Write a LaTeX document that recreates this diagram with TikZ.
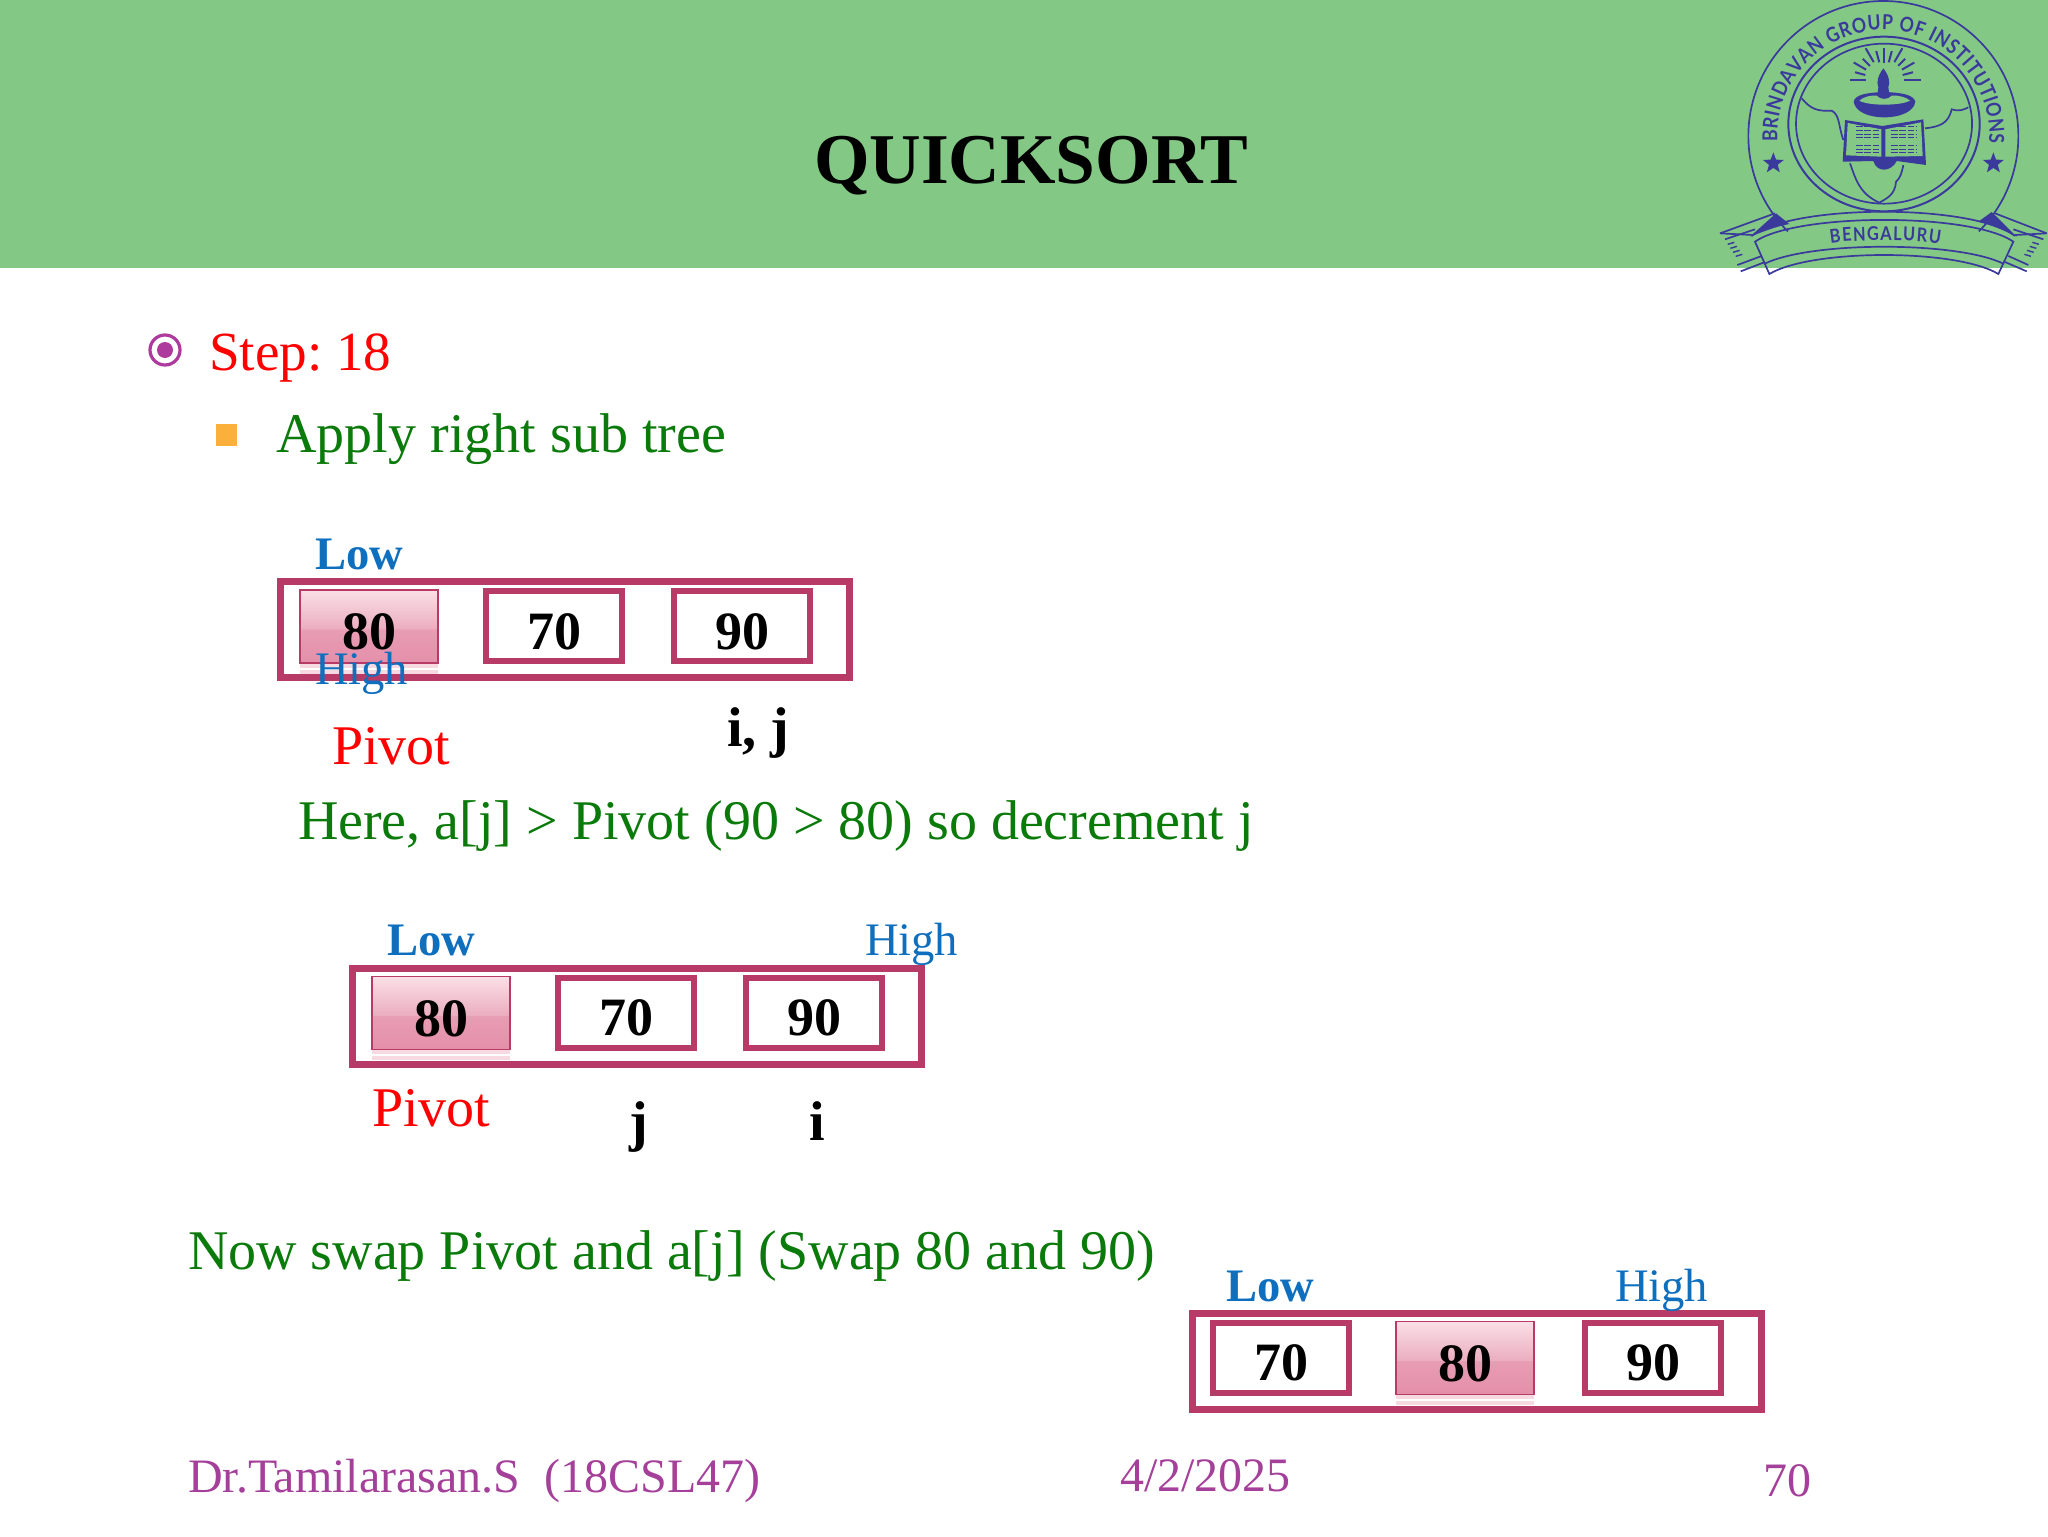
\documentclass[tikz,border=0pt]{standalone}
\usepackage{fontspec}
\setmainfont{Liberation Serif}
\newfontfamily\logofont[FakeStretch=0.86]{Lato}
\usetikzlibrary{shapes.geometric,decorations.text}
\frenchspacing
\definecolor{bannergreen}{HTML}{83C985}
\definecolor{logoblue}{HTML}{3A3A9C}
\definecolor{boxred}{HTML}{B83A66}
\definecolor{txtgreen}{HTML}{0A7A0A}
\definecolor{lowblue}{HTML}{0F6FBF}
\definecolor{footpurple}{HTML}{A5409A}
\definecolor{bulletpurple}{HTML}{AE3A9E}
\definecolor{bulletorange}{HTML}{FBB03B}
\definecolor{reflect}{HTML}{F6D9E1}
\definecolor{pa}{HTML}{E58FAA}
\definecolor{pb}{HTML}{E79DB3}
\definecolor{pc}{HTML}{EBAEC0}
\definecolor{pd}{HTML}{FADFE7}
\pgfdeclareverticalshading{pivotshade}{100bp}{color(0bp)=(pa); color(25bp)=(pa); color(48bp)=(pb); color(48.5bp)=(pc); color(75bp)=(pd); color(100bp)=(pd)}
\newcommand{\fs}[1]{\fontsize{#1}{#1}\selectfont}
\tikzset{
  lab/.style={anchor=base west,inner sep=0pt,outer sep=0pt},
  titletext/.style={lab,font=\fs{35.7}\bfseries,text=black},
  steptext/.style={lab,font=\fs{27.6},text=red},
  greentext/.style={lab,font=\fs{28},text=txtgreen},
  lowtext/.style={lab,font=\fs{23.3}\bfseries,text=lowblue},
  hightext/.style={lab,font=\fs{23.3},text=lowblue},
  pivottext/.style={lab,font=\fs{28},text=red},
  idxtext/.style={lab,font=\fs{28}\bfseries,text=black},
  foottext/.style={lab,font=\fs{24},text=footpurple},
  outerbox/.style={draw=boxred,line width=3.5pt,minimum width=284.5pt,minimum height=48pt,inner sep=0pt},
  cellbox/.style={draw=boxred,line width=3pt,minimum width=68pt,minimum height=35pt,inner sep=0pt,font=\fs{27}\bfseries,text height=23pt,text depth=0pt},
  pivotcell/.style={draw=boxred,line width=.7pt,shading=pivotshade,minimum width=69pt,minimum height=36.5pt,inner sep=0pt,font=\fs{27}\bfseries,text height=23pt,text depth=0pt},
  reflection/.style={fill=reflect,draw=none},
  logoline/.style={draw=logoblue,line width=.85pt},
  logofill/.style={fill=logoblue,draw=none},
  logostar/.style={star,star points=5,star point ratio=2.4,fill=logoblue,inner sep=0pt,minimum size=11pt},
}
\begin{document}
\begin{tikzpicture}[x=.5pt,y=-.5pt]
\useasboundingbox (0,0) rectangle (2048,1536);
\fill[white] (0,0) rectangle (2048,1536);
\fill[bannergreen] (0,0) rectangle (2048,268);
\node[titletext] (title) at (814,183) {QUICKSORT};

% logo, in the coordinates of a 3x crop at (1700,0)
\begin{scope}[shift={(1700,0)},x=.16667pt,y=-.16667pt]
  \draw[logoline] (550,408) ++(135:405) arc[start angle=135,end angle=405,radius=405];
  \draw[logoline,line width=1pt] (552,372) ellipse[x radius=287,y radius=262];
  \draw[logoline] (552,371) ellipse[x radius=264,y radius=240];
  \path[decorate,decoration={text along path,text align={fit to path},
     text={|\fs{10.3}\logofont\bfseries\color{logoblue}|BRINDAVAN GROUP OF INSTITUTIONS}}]
     (550,408) ++(177:318) arc[start angle=177,end angle=364,radius=318];
  \node[logostar] (starl) at (220,490) {};
  \node[logostar] (starr) at (880,490) {};
  % map of India
  \draw[logoline] (305,295) .. controls (330,325) and (350,335) .. (395,332) .. controls (420,345) and (415,380) .. (430,420);
  \draw[logoline] (450,490) .. controls (465,530) and (475,580) .. (538,608) .. controls (560,595) and (585,585) .. (588,545) .. controls (600,535) and (605,520) .. (610,495);
  \draw[logoline] (675,385) .. controls (720,380) and (745,370) .. (755,328) .. controls (775,335) and (790,330) .. (805,322);
  % lamp rays
  \foreach \a/\ri/\ro in {180/55/103,195/58/90,210/62/105,225/60/90,240/62/110,255/55/90,270/50/95,285/55/90,300/62/110,315/60/90,330/62/105,345/58/90,360/60/110}{
    \draw[logoline,line width=1pt] (552,240) ++(\a:\ri) -- ++(\a:\ro-\ri);
  }
  % lamp flame and bowl
  \fill[logofill] (550,205) .. controls (565,225) and (572,245) .. (565,262) -- (568,285) -- (532,285) -- (535,262) .. controls (528,245) and (535,225) .. (550,205) -- cycle;
  \fill[logofill] (461,305) .. controls (465,335) and (505,352) .. (553,352) .. controls (600,352) and (642,335) .. (646,305) .. controls (640,285) and (610,278) .. (553,276) .. controls (495,278) and (465,285) .. (461,305) -- cycle;
  \fill[bannergreen] (478,302) .. controls (490,290) and (515,285) .. (530,287) .. controls (540,300) and (565,300) .. (575,287) .. controls (595,285) and (620,292) .. (630,302) .. controls (600,318) and (505,318) .. (478,302) -- cycle;
  % book
  \fill[logofill] (435,360) -- (547,378) -- (670,358) -- (678,495) -- (590,483) .. controls (575,515) and (530,520) .. (520,483) -- (428,485) -- cycle;
  \fill[bannergreen] (443,369) -- (544,388) -- (544,470) -- (438,466) -- cycle;
  \fill[bannergreen] (556,388) -- (663,367) -- (668,468) -- (556,470) -- cycle;
  \foreach \yy in {380,392,402,413,435,447,458}{
    \draw[logoblue,line width=.5pt,dash pattern=on 3.4pt off .8pt] (467,\yy) -- (538,\yy);
    \draw[logoblue,line width=.5pt,dash pattern=on 3.4pt off .8pt] (572,\yy) -- (648,\yy);
  }
  % ribbon
  \fill[logofill] (150,710) -- (228,640) -- (268,672) .. controls (225,680) and (190,695) .. (150,710) -- cycle;
  \fill[logofill] (950,710) -- (875,636) -- (835,665) .. controls (875,675) and (915,692) .. (950,710) -- cycle;
  \draw[logoline] (155,708) .. controls (280,611) and (820,611) .. (945,708);
  \draw[logoline] (165,725) .. controls (290,638) and (815,638) .. (940,725) -- (895,822) .. controls (770,746) and (335,746) .. (208,822) -- cycle;
  \draw[logoline] (192,792) .. controls (330,723) and (775,723) .. (912,792);
  \draw[logoline] (60,700) -- (225,640);
  \draw[logoline] (60,700) -- (160,705);
  \draw[logoline] (75,718) -- (165,688);
  \draw[logoline] (112,795) -- (185,768);
  \draw[logoline] (122,814) -- (195,786);
  \draw[logoline] (1040,700) -- (885,640);
  \draw[logoline] (1040,700) -- (945,705);
  \draw[logoline] (1030,718) -- (940,688);
  \draw[logoline] (985,795) -- (925,768);
  \draw[logoline] (980,814) -- (915,786);
  \foreach \k in {0,1,2,3}{
    \draw[logoline,line width=.7pt] (83+\k*8,733+\k*12) -- (103+\k*8,727+\k*12);
    \draw[logoline,line width=.7pt] (1017-\k*8,733+\k*12) -- (997-\k*8,727+\k*12);
  }
  \path[decorate,decoration={text along path,text align={fit to path},
     text={|\fs{9.5}\logofont\bfseries\color{logoblue}|BENGALURU}}]
     (392,730) .. controls (450,718) and (660,718) .. (720,732);
\end{scope}

% bullets
\draw[bulletpurple,line width=1.6pt,fill=white] (165,350) circle[radius=15];
\fill[bulletpurple] (165,350) circle[radius=8];
\fill[bulletorange] (216,424) rectangle (237,446);
\node[steptext] (step) at (209,370) {Step: 18};
\node[greentext] (apply) at (276.5,452) {Apply right sub tree};

% first array
\node[outerbox] (a) at (564.5,629.5) {};
\fill[reflection] (300,663) rectangle (438,674);
\draw[white,line width=.6pt] (300,669) -- (438,669);
\node[pivotcell] (a1) at (369,626.5) {80};
\node[cellbox] (a2) at (554,626) {70};
\node[cellbox] (a3) at (742,626) {90};
\node[lowtext] (alow) at (315,569) {Low};
\node[hightext] (ahigh) at (315,684) {High};
\node[pivottext] (apiv) at (332,764) {Pivot};
\node[idxtext] (aij) at (727,746) {i, j};
\node[greentext] (here) at (298,839) {Here, a[j] > Pivot (90 > 80) so decrement j};

% second array
\node[outerbox] (b) at (636.5,1016) {};
\fill[reflection] (372,1049) rectangle (510,1060);
\draw[white,line width=.6pt] (372,1055) -- (510,1055);
\node[pivotcell] (b1) at (441,1013) {80};
\node[cellbox] (b2) at (626,1012.5) {70};
\node[cellbox] (b3) at (814,1012.5) {90};
\node[lowtext] (blow) at (387,955) {Low};
\node[hightext] (bhigh) at (865,955) {High};
\node[pivottext] (bpiv) at (372,1126) {Pivot};
\node[idxtext] (bj) at (629,1140.5) {j};
\node[idxtext] (bi) at (809,1140.5) {i};
\node[greentext] (swap) at (188,1269) {Now swap Pivot and a[j] (Swap 80 and 90)};

% third array
\node[outerbox] (c) at (1477,1361) {};
\fill[reflection] (1396,1394) rectangle (1534,1405);
\draw[white,line width=.6pt] (1396,1400) -- (1534,1400);
\node[cellbox] (c1) at (1281,1357.5) {70};
\node[pivotcell] (c2) at (1465,1358) {80};
\node[cellbox] (c3) at (1653,1357.5) {90};
\node[lowtext] (clow) at (1226,1301) {Low};
\node[hightext] (chigh) at (1615,1301) {High};

% footer
\node[foottext] (fa) at (188,1492) {Dr.Tamilarasan.S\ \ (18CSL47)};
\node[foottext] (fb) at (1120,1491) {4/2/2025};
\node[foottext] (fc) at (1763,1496) {70};
\end{tikzpicture}
\end{document}
